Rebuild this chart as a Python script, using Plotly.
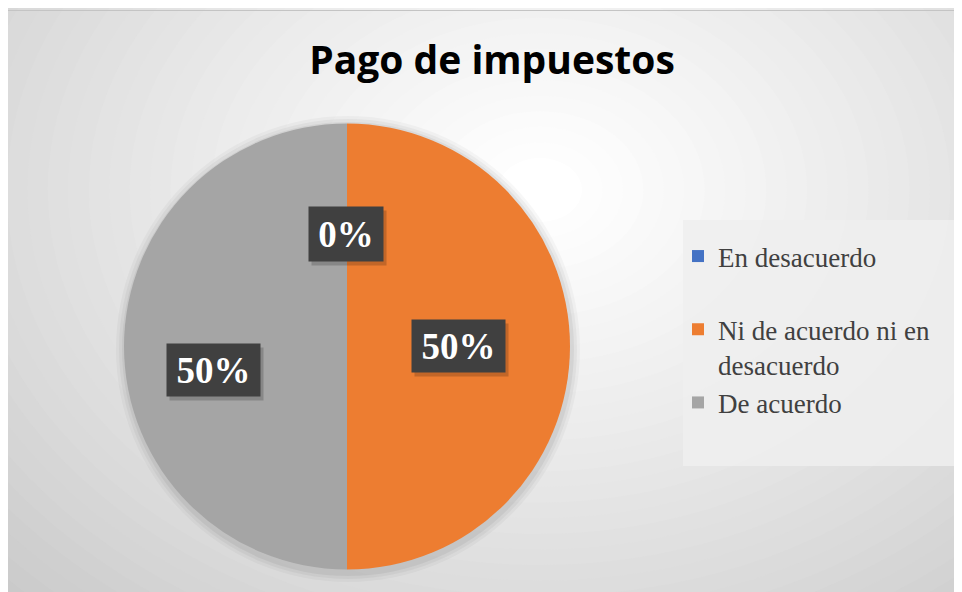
import plotly.graph_objects as go

# ---- data ----
categories = ["En desacuerdo", "Ni de acuerdo ni en desacuerdo", "De acuerdo"]
legend_labels = ["En desacuerdo<br> ", "Ni de acuerdo ni en<br>desacuerdo", "De acuerdo"]
values = [0, 50, 50]
colors = ["#4472C4", "#ED7D31", "#A5A5A5"]
title_text = "Pago de impuestos"

# the page body adds an 8px margin; the figure is the chart area itself
OFF = 8
W, H = 954, 584


def px(x):  # reference-page pixel -> paper x
    return (x - OFF) / W


def py(y):  # reference-page pixel -> paper y
    return 1 - (y - OFF) / H


total = sum(values)
pct_text = [f"{v / total:.0%}" for v in values]

fig = go.Figure()
fig.add_trace(go.Pie(
    labels=legend_labels,
    values=values,
    marker=dict(colors=colors, line=dict(width=0)),
    sort=False,
    direction="clockwise",
    rotation=0,
    textinfo="none",
    hoverinfo="label+percent",
    domain=dict(x=[px(124), px(570)], y=[py(570), py(123)]),
    showlegend=True,
))

# ---- background radial gradient ----
shapes = []
cx, cy = 540, 190
N = 40
outer_c = (192, 192, 192)
inner_c = (255, 255, 255)
for i in range(N):
    t = i / (N - 1)
    r = 760 * (1 - t) + 40
    rx, ry = r * 1.05, r * 0.8
    col = tuple(int(outer_c[k] + (inner_c[k] - outer_c[k]) * (t ** 0.8)) for k in range(3))
    shapes.append(dict(
        type="circle", xref="paper", yref="paper", layer="below",
        x0=px(cx - rx), x1=px(cx + rx), y0=py(cy + ry), y1=py(cy - ry),
        fillcolor=f"rgb{col}", line=dict(width=0),
    ))
# pie soft shadow
for g, o in [(9, 0.03), (6, 0.04), (3, 0.05)]:
    shapes.append(dict(
        type="circle", xref="paper", yref="paper", layer="below",
        x0=px(125 - g), x1=px(571 + g), y0=py(573 + g), y1=py(125 - g),
        fillcolor=f"rgba(0,0,0,{o})", line=dict(width=0),
    ))
# legend box
shapes.append(dict(
    type="rect", xref="paper", yref="paper", layer="below",
    x0=px(683), x1=px(970), y0=py(466), y1=py(220),
    fillcolor="rgba(238,238,238,0.85)", line=dict(width=0),
))
# chart border top line
shapes.append(dict(type="line", xref="paper", yref="paper", layer="below",
                   x0=0, x1=1, y0=py(10.5), y1=py(10.5),
                   line=dict(color="#c4c4c4", width=1)))

# ---- data labels ----
label_pos = [(346, 234), (458, 346), (213, 370)]
label_size = [(72, 52), (91, 50), (91, 50)]
annotations = []
for txt, (x, y), (w, h) in zip(pct_text, label_pos, label_size):
    # soft shadow box
    annotations.append(dict(
        x=px(x + 3), y=py(y + 4), xref="paper", yref="paper",
        text=" ", showarrow=False, bgcolor="rgba(0,0,0,0.18)",
        width=w, height=h, xanchor="center", yanchor="middle",
    ))
    annotations.append(dict(
        x=px(x), y=py(y), xref="paper", yref="paper",
        text=f"<b>{txt}</b>", showarrow=False,
        font=dict(family="Liberation Serif, Times New Roman, serif", size=37, color="white"),
        bgcolor="#404040", width=w, height=h,
        xanchor="center", yanchor="middle",
    ))

fig.update_layout(
    width=W, height=H,
    margin=dict(l=0, r=0, t=0, b=0),
    paper_bgcolor="white",
    plot_bgcolor="white",
    title=dict(
        text=f"<b>{title_text}</b>",
        x=px(492), xanchor="center",
        y=py(60), yanchor="middle",
        font=dict(family="Open Sans, sans-serif", size=39, color="black"),
    ),
    legend=dict(
        x=px(678), xanchor="left",
        y=py(232), yanchor="top",
        font=dict(family="Liberation Serif, Times New Roman, serif", size=27, color="#404040"),
        bgcolor="rgba(0,0,0,0)",
        valign="top",
        itemwidth=30,
    ),
    shapes=shapes,
    annotations=annotations,
)

fig.write_html("out.html")
